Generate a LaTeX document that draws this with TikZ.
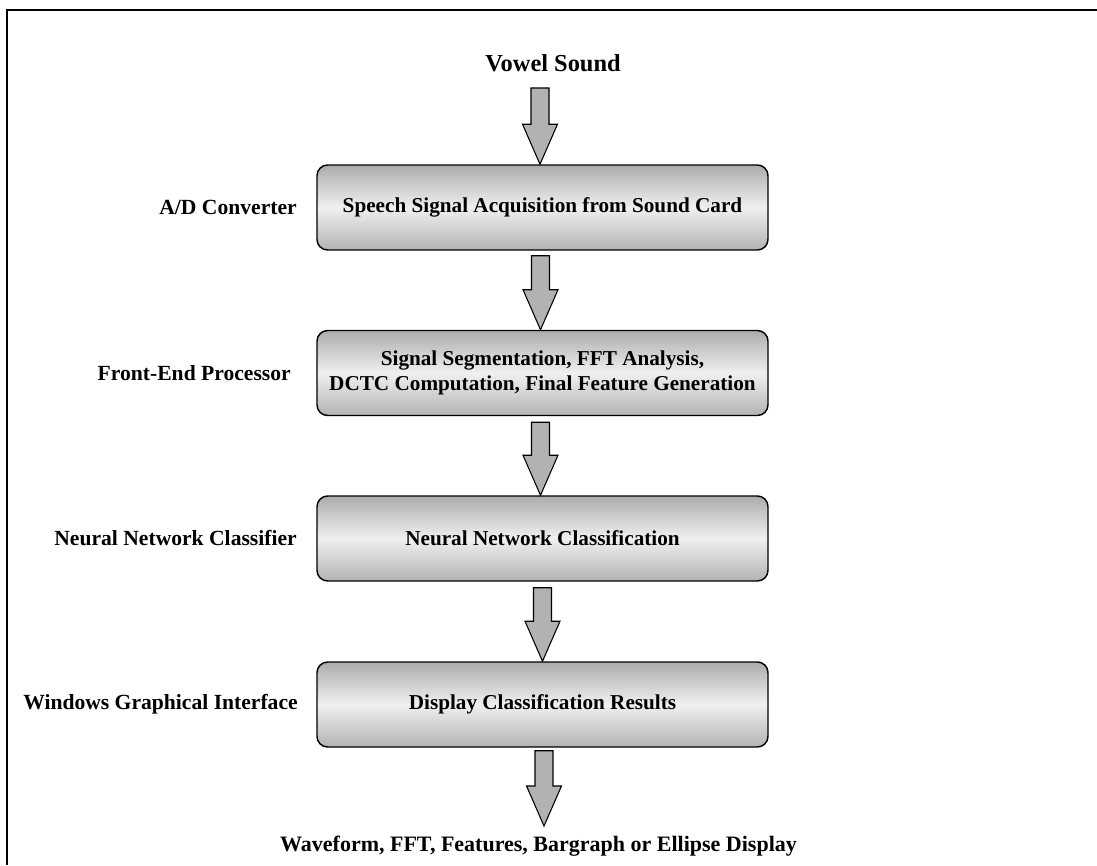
\documentclass[tikz,border=0pt]{standalone}
\usepackage{fontspec}
\setmainfont{Liberation Serif}
\usetikzlibrary{calc}
\tikzset{
  stage/.style={draw=black, line width=1.1pt, rounded corners=8pt,
    minimum width=338.25pt, minimum height=63.75pt, inner sep=0pt,
    top color=gray!65, bottom color=gray!60, middle color=gray!12,
    font=\fontsize{15.9}{19}\bfseries, align=center},
  sidelabel/.style={anchor=east, font=\fontsize{16.2}{19}\bfseries, inner sep=0pt},
  fatarrow/.style={draw=black, line width=0.8pt, fill=gray!60, line join=miter},
}
\newcommand{\fatarrow}[2]{%
  \path[fatarrow] let \p1=#1, \p2=#2 in
    (\x1-6.75pt,\y1) -- (\x1+6.75pt,\y1) -- (\x1+6.75pt,\y2+30pt) --
    (\x1+13.1pt,\y2+30pt) -- (\x2,\y2) -- (\x1-13.1pt,\y2+30pt) --
    (\x1-6.75pt,\y2+30pt) -- cycle;}
\begin{document}
\begin{tikzpicture}[x=0.75pt, y=-0.75pt]
\useasboundingbox (0,0) rectangle (1097,865);
\draw[line width=1.5pt] (7,865) -- (7,10) -- (1097,10);

\node[anchor=base, font=\fontsize{18.3}{21}\bfseries, inner sep=0pt] (vowel) at (553,71) {Vowel Sound};

\node[stage] (b1) at (542.5,207.5) {Speech Signal Acquisition from Sound Card};
\node[stage] (b2) at (542.5,373) {Signal Segmentation, FFT Analysis,\\DCTC Computation, Final Feature Generation};
\node[stage] (b3) at (542.5,538.5) {Neural Network Classification};
\node[stage] (b4) at (542.5,704.5) {Display Classification Results};

\node[sidelabel] (l1) at (297,207.5) {A/D Converter};
\node[sidelabel] (l2) at (291,373) {Front-End Processor};
\node[sidelabel] (l3) at (297,538.5) {Neural Network Classifier};
\node[sidelabel] (l4) at (298,704.5) {Windows Graphical Interface};

\node[anchor=base, font=\fontsize{16.5}{19}\bfseries, inner sep=0pt] (out) at (538.5,851) {Waveform, FFT, Features, Bargraph or Ellipse Display};

\coordinate (in) at (540,88);
\fatarrow{(in)}{(b1.north -| in)}
\fatarrow{($(b1.south)+(-2,5)$)}{($(b2.north)+(-2,0)$)}
\fatarrow{($(b2.south)+(-2,6)$)}{($(b3.north)+(-2,0)$)}
\fatarrow{($(b3.south)+(0,6)$)}{($(b4.north)+(0,0)$)}
\coordinate (outtip) at (544,826);
\fatarrow{($(b4.south -| outtip)+(0,3)$)}{(outtip)}
\end{tikzpicture}
\end{document}
